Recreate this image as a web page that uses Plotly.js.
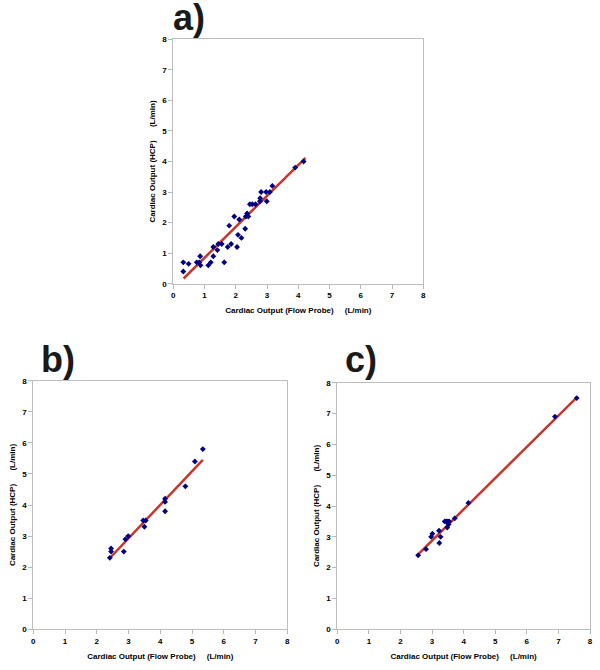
<!DOCTYPE html>
<html>
<head>
<meta charset="utf-8">
<script src="https://cdn.plot.ly/plotly-3.0.1.min.js"></script>
<style>html,body{margin:0;padding:0;background:#fff;}#chart{width:600px;height:670px;}</style>
</head>
<body>
<div id="chart"></div>
<script>
// Panel a) data
var aFlow = [0.32,0.32,0.49,0.75,0.83,0.86,0.87,1.12,1.20,1.28,1.28,1.41,1.44,1.55,1.63,1.74,1.79,1.85,1.95,2.04,2.07,2.11,2.18,2.30,2.32,2.36,2.40,2.45,2.53,2.63,2.77,2.78,2.81,2.97,2.99,3.09,3.17,3.90,4.17];
var aHCP  = [0.7,0.4,0.65,0.7,0.7,0.9,0.6,0.6,0.7,0.9,1.2,1.1,1.3,1.3,0.7,1.2,1.9,1.3,2.2,1.2,1.6,2.1,1.5,1.8,2.2,2.3,2.2,2.6,2.6,2.6,2.7,2.8,3.0,3.0,2.7,3.0,3.2,3.8,4.0];
var aFitX = [0.33, 4.23];
var aFitY = [0.17, 4.12];

// Panel b) data
var bFlow = [2.41,2.45,2.45,2.85,2.90,2.99,3.46,3.50,3.54,4.15,4.15,4.15,4.79,5.09,5.34];
var bHCP  = [2.3,2.6,2.5,2.5,2.9,3.0,3.5,3.3,3.5,4.2,4.1,3.8,4.6,5.4,5.8];
var bFitX = [2.39, 5.34];
var bFitY = [2.27, 5.45];

// Panel c) data
var cFlow = [2.56,2.81,2.97,3.01,3.22,3.23,3.27,3.40,3.45,3.50,3.54,3.48,3.52,3.72,4.15,6.89,7.58];
var cHCP  = [2.4,2.6,3.0,3.1,3.2,2.8,3.0,3.5,3.5,3.5,3.5,3.3,3.4,3.6,4.1,6.9,7.5];
var cFitX = [2.52, 7.60];
var cFitY = [2.39, 7.54];

var tickVals = [0,1,2,3,4,5,6,7,8];
var panelLabels = ['a)', 'b)', 'c)'];
var xTitle = 'Cardiac Output (Flow Probe)\u00a0\u00a0\u00a0\u00a0\u00a0(L/min)';
var yTitle = 'Cardiac Output (HCP)\u00a0\u00a0\u00a0\u00a0\u00a0\u00a0(L/min)';

var FONT = 'Arial, "Liberation Sans", sans-serif';
var navy = '#000080';
var red = '#c8352a';

function pts(x, y, xa, ya) {
  return {x: x, y: y, xaxis: xa, yaxis: ya, type: 'scatter', mode: 'markers',
    marker: {symbol: 'diamond', size: 4.5, color: navy}, hoverinfo: 'x+y'};
}
function fit(x, y, xa, ya) {
  return {x: x, y: y, xaxis: xa, yaxis: ya, type: 'scatter', mode: 'lines',
    line: {color: red, width: 2.5}, hoverinfo: 'skip'};
}

var data = [
  fit(aFitX, aFitY, 'x', 'y'), pts(aFlow, aHCP, 'x', 'y'),
  fit(bFitX, bFitY, 'x2', 'y2'), pts(bFlow, bHCP, 'x2', 'y2'),
  fit(cFitX, cFitY, 'x3', 'y3'), pts(cFlow, cHCP, 'x3', 'y3')
];

function ax(domain, anchor, title, standoff) {
  return {
    domain: domain, anchor: anchor, range: [0, 8], tickvals: tickVals,
    ticks: 'outside', ticklen: 4, tickwidth: 1, tickcolor: '#b8b8b8',
    showline: true, linecolor: '#bdbdbd', linewidth: 1, mirror: true,
    showgrid: false, zeroline: false, automargin: false,
    tickfont: {family: FONT, size: 8, color: '#000', weight: 'bold'},
    title: {text: '<b>' + title + '</b>', standoff: standoff,
      font: {family: FONT, size: 8, color: '#000'}}
  };
}

var W = 600, H = 670;
function dx(a, b) { return [a / W, b / W]; }
function dy(top, bottom) { return [1 - bottom / H, 1 - top / H]; }

var layout = {
  width: W, height: H, margin: {l: 0, r: 0, t: 0, b: 0},
  paper_bgcolor: '#fff', plot_bgcolor: '#fff', showlegend: false,
  xaxis:  ax(dx(173.3, 423.3), 'y',  xTitle, 8),
  yaxis:  ax(dy(39.3, 283.7),  'x',  yTitle, 5),
  xaxis2: ax(dx(33.3, 287.3),  'y2', xTitle, 8),
  yaxis2: ax(dy(380.7, 629.3), 'x2', yTitle, 5),
  xaxis3: ax(dx(337.3, 590),   'y3', xTitle, 8),
  yaxis3: ax(dy(382.7, 629.3), 'x3', yTitle, 5),
  annotations: [
    {text: '<b>' + panelLabels[0] + '</b>', xref: 'paper', yref: 'paper', x: 171 / W, y: 1 - 18 / H,
     xanchor: 'left', yanchor: 'middle', showarrow: false, font: {family: FONT, size: 36, color: '#1a1a1a'}},
    {text: '<b>' + panelLabels[1] + '</b>', xref: 'paper', yref: 'paper', x: 39 / W, y: 1 - 359 / H,
     xanchor: 'left', yanchor: 'middle', showarrow: false, font: {family: FONT, size: 36, color: '#1a1a1a'}},
    {text: '<b>' + panelLabels[2] + '</b>', xref: 'paper', yref: 'paper', x: 343 / W, y: 1 - 359 / H,
     xanchor: 'left', yanchor: 'middle', showarrow: false, font: {family: FONT, size: 36, color: '#1a1a1a'}}
  ]
};

Plotly.newPlot('chart', data, layout, {staticPlot: true, displayModeBar: false});
</script>
</body>
</html>
